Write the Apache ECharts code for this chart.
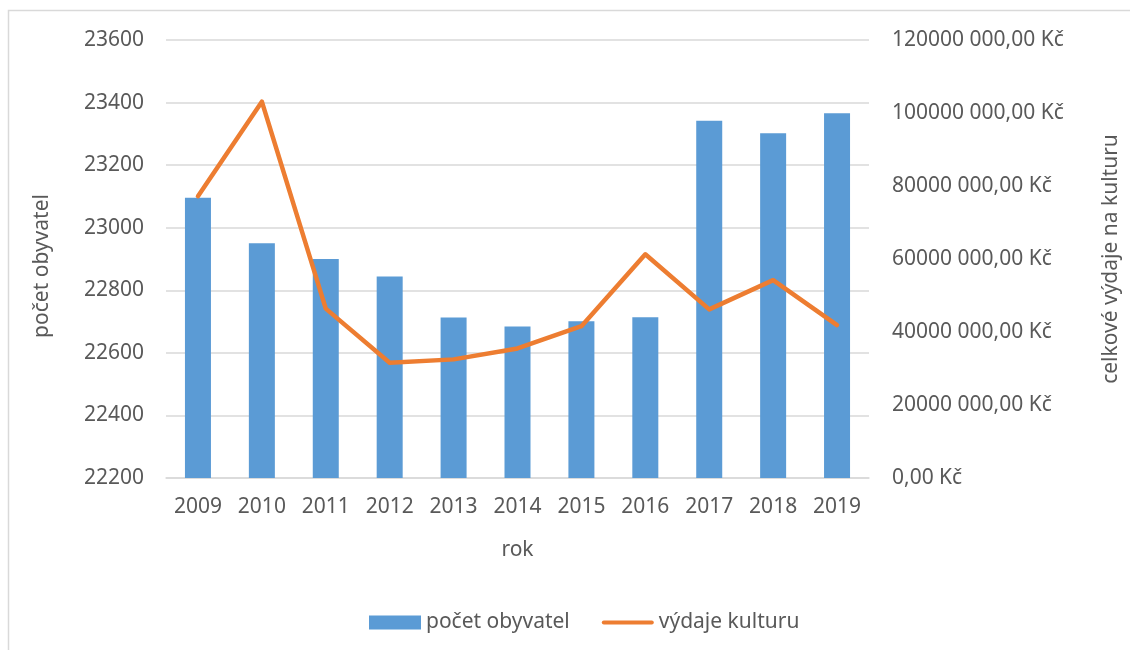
<!DOCTYPE html>
<html>
<head>
<meta charset="utf-8">
<script src="https://cdn.jsdelivr.net/npm/echarts@6/dist/echarts.min.js"></script>
<style>
  html, body { margin: 0; padding: 0; background: #fff; }
  #main { width: 1130px; height: 650px; }
</style>
</head>
<body>
<div id="main"></div>
<script>
// data
var years = ['2009', '2010', '2011', '2012', '2013', '2014', '2015', '2016', '2017', '2018', '2019'];
var obyvatel = [23096, 22950, 22900, 22844, 22713, 22684, 22701, 22714, 23342, 23302, 23366];
var vydaje = [77200000, 103100000, 46400000, 31600000, 32500000, 35500000, 41600000, 61300000, 46200000, 54200000, 41900000];

var textColor = '#595959';
var gridColor = '#d9d9d9';
var font = 'Noto Sans';

// "120000 000,00 Kč" - jen posledni trojice oddelena mezerou
function formatKc(v) {
    var s = String(Math.round(v));
    if (s.length > 3) {
        s = s.slice(0, -3) + ' ' + s.slice(-3);
    }
    return s + ',00 Kč';
}

var chart = echarts.init(document.getElementById('main'));

var option = {
    animation: false,
    textStyle: { fontFamily: font, color: textColor },
    graphic: [{
        type: 'rect',
        shape: { x: 8.5, y: 10.5, width: 1200, height: 700 },
        style: { fill: 'none', stroke: gridColor, lineWidth: 1.5 },
        silent: true
    }],
    grid: { left: 166, right: 256, top: 40, bottom: 172 },
    legend: {
        left: 364,
        top: 607,
        itemWidth: 52,
        itemHeight: 14,
        itemGap: 32,
        symbolKeepAspect: true,
        textStyle: { fontFamily: font, fontSize: 21, color: textColor },
        data: [
            { name: 'počet obyvatel', icon: 'rect' },
            { name: 'výdaje kulturu', icon: 'path://M2,0 L50,0 A2,2 0 0 1 50,4 L2,4 A2,2 0 0 1 2,0 Z', itemStyle: { color: '#ed7d31' } }
        ]
    },
    xAxis: {
        type: 'category',
        data: years,
        name: 'rok',
        nameLocation: 'middle',
        nameGap: 62,
        nameTextStyle: { fontFamily: font, fontSize: 21, color: textColor },
        axisLine: { lineStyle: { color: gridColor, width: 1.5 } },
        axisTick: { show: false },
        axisLabel: { fontFamily: font, fontSize: 21, color: textColor, margin: 19 }
    },
    yAxis: [{
        type: 'value',
        min: 22200,
        max: 23600,
        interval: 200,
        name: 'počet obyvatel',
        nameLocation: 'middle',
        nameRotate: 90,
        nameGap: 113,
        nameTextStyle: { fontFamily: font, fontSize: 21, color: textColor, padding: [0, 0, 0, -14] },
        axisLine: { show: false },
        axisTick: { show: false },
        axisLabel: {
            fontFamily: font, fontSize: 21, color: textColor, margin: 22,
            formatter: function (v) { return String(v); }
        },
        splitLine: { lineStyle: { color: gridColor, width: 1.5 } }
    }, {
        type: 'value',
        min: 0,
        max: 120000000,
        interval: 20000000,
        position: 'right',
        name: 'celkové výdaje na kulturu',
        nameLocation: 'middle',
        nameRotate: 90,
        nameGap: 232,
        nameTextStyle: { fontFamily: font, fontSize: 21, color: textColor },
        axisLine: { show: false },
        axisTick: { show: false },
        axisLabel: {
            fontFamily: font, fontSize: 21, color: textColor, margin: 23,
            formatter: formatKc
        },
        splitLine: { show: false }
    }],
    series: [{
        name: 'počet obyvatel',
        type: 'bar',
        yAxisIndex: 0,
        barWidth: 26,
        itemStyle: { color: '#5b9bd5' },
        data: obyvatel
    }, {
        name: 'výdaje kulturu',
        type: 'line',
        yAxisIndex: 1,
        symbol: 'none',
        lineStyle: { color: '#ed7d31', width: 4.5, cap: 'round', join: 'round' },
        itemStyle: { color: '#ed7d31' },
        data: vydaje
    }]
};

chart.setOption(option);
</script>
</body>
</html>
